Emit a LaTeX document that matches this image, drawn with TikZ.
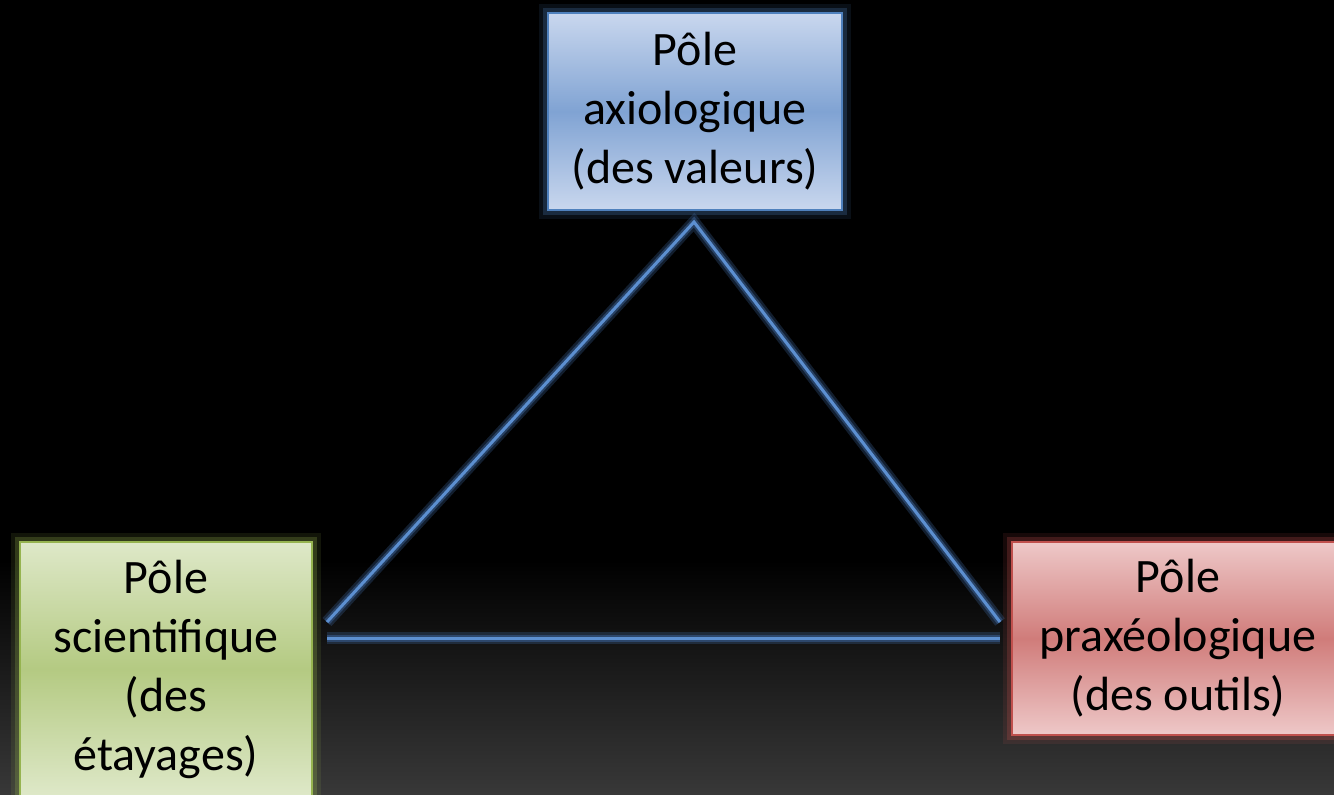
\documentclass[tikz,border=0pt]{standalone}
\usepackage{fontspec}
\setmainfont{Carlito}
\definecolor{axioedge}{RGB}{79,129,189}
\definecolor{axiolight}{RGB}{201,215,238}
\definecolor{axiomid}{RGB}{128,163,211}
\definecolor{scientedge}{RGB}{150,180,80}
\definecolor{scientlight}{RGB}{222,232,200}
\definecolor{scientmid}{RGB}{180,202,130}
\definecolor{praxeoedge}{RGB}{192,80,77}
\definecolor{praxeolight}{RGB}{238,200,200}
\definecolor{praxeomid}{RGB}{208,124,122}
\definecolor{linkcore}{RGB}{92,143,208}
\definecolor{linkglow}{RGB}{60,100,155}
\definecolor{floor}{RGB}{56,56,56}

\begin{document}
\begin{tikzpicture}[x=0.5pt,y=-0.5pt,
      every node/.style={inner sep=0pt,align=center,font=\fontsize{24}{29.5}\selectfont},
      pole/.style={draw=#1edge,line width=0.8pt,top color=#1light,bottom color=#1light,
        middle color=#1mid,
        preaction={draw=#1edge,line width=9pt,opacity=0.12},
        preaction={draw=#1edge,line width=5pt,opacity=0.25}},
      link/.style={draw=linkcore,line width=1.5pt,line cap=butt,
        preaction={draw=linkglow,line width=6pt,opacity=0.3},
        preaction={draw=linkglow,line width=3.5pt,opacity=0.5}}
    ]
      % background
      \fill[black] (0,0) rectangle (1334,794);
      \shade[top color=black,bottom color=floor] (0,560) rectangle (1334,794);
      \useasboundingbox (0,0) rectangle (1334,794);

      \node[pole=axio,minimum width=147pt,minimum height=98.5pt] (axio) at (695,111.5)
        {Pôle\\axiologique\\(des valeurs)};
      \node[pole=scient,minimum width=146pt,minimum height=127pt] (scient) at (166,669)
        {Pôle\\scientifique\\(des\\étayages)};
      \node[pole=praxeo,minimum width=166pt,minimum height=96.5pt] (praxeo) at (1178,638.5)
        {Pôle\\praxéologique\\(des outils)};

      \coordinate (apex) at (694,222);
      \coordinate (scientTop) at (327,622);
      \coordinate (praxeoTop) at (1000,622);
      \coordinate (scientBase) at (327,638);
      \coordinate (praxeoBase) at (1000,638);

      \draw[link,line join=miter] (scientTop) -- (apex) -- (praxeoTop);
      \draw[link] (scientBase) -- (praxeoBase);
    \end{tikzpicture}
\end{document}
